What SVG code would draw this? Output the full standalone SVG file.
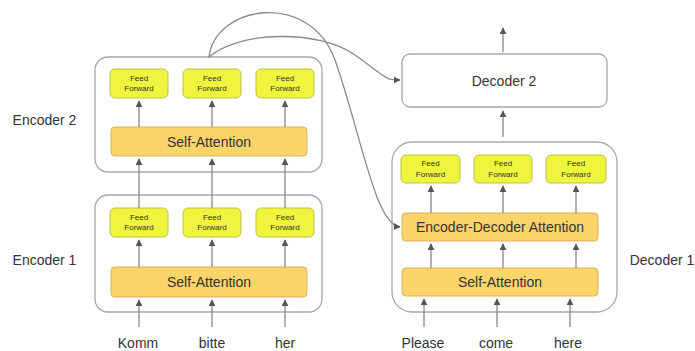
<svg xmlns="http://www.w3.org/2000/svg" width="695" height="351" viewBox="0 0 695 351">
<defs>
<marker id="ah" viewBox="0 0 10 10" refX="9" refY="5" markerWidth="7" markerHeight="7" markerUnits="userSpaceOnUse" orient="auto">
<path d="M0,0 L10,5 L0,10 Z" fill="#555"/>
</marker>
<style>
.outer{fill:#fff;stroke:#a8a8a8;stroke-width:1.3}
.ff{fill:#eef53c;stroke:#b9c24a;stroke-width:1}
.sa{fill:#fbd46a;stroke:#d6b457;stroke-width:1}
.t{font-family:"Liberation Sans",Arial,sans-serif;fill:#333;text-anchor:middle}
.lab{font-size:14px}
.small{font-size:8px}
.conn path,.conn line{stroke:#8a8a8a;stroke-width:1.3;fill:none;marker-end:url(#ah)}
</style>
</defs>
<rect width="695" height="351" fill="#fff"/>

<g id="encoder2">
<rect class="outer" x="95" y="57" width="227" height="115" rx="13"/>
<rect class="sa" x="111" y="127" width="196" height="29" rx="4"/>
<text class="t lab" x="209" y="146.5">Self-Attention</text>
</g>
<g id="enc2-ff1"><rect class="ff" x="110" y="69" width="58" height="29" rx="5"/><text class="t small" x="139" y="80.5">Feed</text><text class="t small" x="139" y="91">Forward</text></g>
<g id="enc2-ff2"><rect class="ff" x="183" y="69" width="58" height="29" rx="5"/><text class="t small" x="212" y="80.5">Feed</text><text class="t small" x="212" y="91">Forward</text></g>
<g id="enc2-ff3"><rect class="ff" x="256" y="69" width="58" height="29" rx="5"/><text class="t small" x="285" y="80.5">Feed</text><text class="t small" x="285" y="91">Forward</text></g>

<g id="encoder1">
<rect class="outer" x="95" y="195" width="227" height="117" rx="13"/>
<rect class="sa" x="111" y="267" width="196" height="30" rx="4"/>
<text class="t lab" x="209" y="287">Self-Attention</text>
</g>
<g id="enc1-ff1"><rect class="ff" x="110" y="208" width="58" height="29" rx="5"/><text class="t small" x="139" y="219.5">Feed</text><text class="t small" x="139" y="230">Forward</text></g>
<g id="enc1-ff2"><rect class="ff" x="183" y="208" width="58" height="29" rx="5"/><text class="t small" x="212" y="219.5">Feed</text><text class="t small" x="212" y="230">Forward</text></g>
<g id="enc1-ff3"><rect class="ff" x="256" y="208" width="58" height="29" rx="5"/><text class="t small" x="285" y="219.5">Feed</text><text class="t small" x="285" y="230">Forward</text></g>

<g id="decoder2">
<rect class="outer" x="402" y="54" width="205" height="53" rx="8"/>
<text class="t lab" x="504" y="86">Decoder 2</text>
</g>

<g id="decoder1">
<rect class="outer" x="392" y="142" width="225" height="170" rx="20"/>
<rect class="sa" x="402" y="213" width="196" height="28" rx="4"/>
<text class="t lab" x="500" y="232">Encoder-Decoder Attention</text>
<rect class="sa" x="402" y="268" width="196" height="28" rx="4"/>
<text class="t lab" x="500" y="287">Self-Attention</text>
</g>
<g id="dec1-ff1"><rect class="ff" x="401" y="155" width="59" height="28" rx="5"/><text class="t small" x="430.5" y="166">Feed</text><text class="t small" x="430.5" y="176.5">Forward</text></g>
<g id="dec1-ff2"><rect class="ff" x="474" y="155" width="58" height="28" rx="5"/><text class="t small" x="503" y="166">Feed</text><text class="t small" x="503" y="176.5">Forward</text></g>
<g id="dec1-ff3"><rect class="ff" x="546" y="155" width="60" height="28" rx="5"/><text class="t small" x="576" y="166">Feed</text><text class="t small" x="576" y="176.5">Forward</text></g>

<g id="labels">
<text class="t lab" x="44.5" y="125">Encoder 2</text>
<text class="t lab" x="44.5" y="265">Encoder 1</text>
<text class="t lab" x="662" y="265">Decoder 1</text>
<text class="t lab" x="138" y="348">Komm</text>
<text class="t lab" x="212" y="348">bitte</text>
<text class="t lab" x="285" y="348">her</text>
<text class="t lab" x="423" y="348">Please</text>
<text class="t lab" x="496" y="348">come</text>
<text class="t lab" x="568" y="348">here</text>
</g>

<g id="connectors" class="conn">
<line x1="139" y1="327" x2="139" y2="300"/>
<line x1="212" y1="327" x2="212" y2="300"/>
<line x1="285" y1="327" x2="285" y2="300"/>
<line x1="139" y1="267" x2="139" y2="240"/>
<line x1="212" y1="267" x2="212" y2="240"/>
<line x1="285" y1="267" x2="285" y2="240"/>
<line x1="139" y1="208" x2="139" y2="159"/>
<line x1="212" y1="208" x2="212" y2="159"/>
<line x1="285" y1="208" x2="285" y2="159"/>
<line x1="139" y1="127" x2="139" y2="101"/>
<line x1="212" y1="127" x2="212" y2="101"/>
<line x1="285" y1="127" x2="285" y2="101"/>
<line x1="424" y1="327" x2="424" y2="299"/>
<line x1="497" y1="327" x2="497" y2="299"/>
<line x1="570" y1="327" x2="570" y2="299"/>
<line x1="431" y1="268" x2="431" y2="244"/>
<line x1="503" y1="268" x2="503" y2="244"/>
<line x1="576" y1="268" x2="576" y2="244"/>
<line x1="431" y1="213" x2="431" y2="186"/>
<line x1="503" y1="213" x2="503" y2="186"/>
<line x1="576" y1="213" x2="576" y2="186"/>
<line x1="503" y1="137" x2="503" y2="111"/>
<line x1="503" y1="52" x2="503" y2="28"/>
<path d="M209,57 C215,5 310,-10 335,60 S375,225 400,227"/>
<path d="M209,57 C240,30 320,30 355,55 S385,80 400,80"/>
</g>
</svg>
